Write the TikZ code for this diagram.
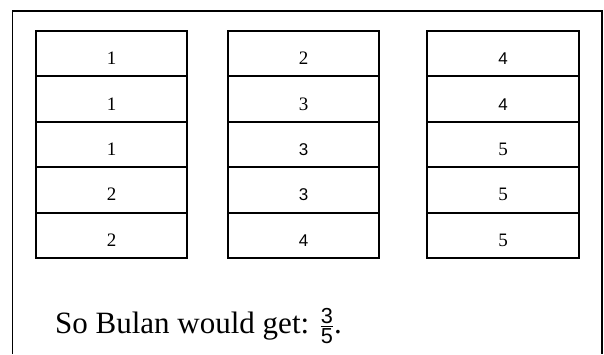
\documentclass[tikz,border=0pt]{standalone}
\usepackage{amsmath}
\usepackage{fontspec}
\setmainfont{Liberation Serif}
\setsansfont{Liberation Sans}

\tikzset{
  cell/.style={draw=black, line width=2pt, minimum width=151.5pt,
    minimum height=45.4pt, inner sep=0pt, text height=22pt, text depth=0pt,
    font=\fontsize{19}{22}\selectfont},
  sanscell/.style={cell, font=\fontsize{17}{22}\selectfont\sffamily}
}

\begin{document}
\begin{tikzpicture}[x=1pt,y=-1pt]
  \useasboundingbox (0,0) rectangle (604,354);

  % Marco exterior
  \draw[line width=1.4pt] (12.7,354) -- (12.7,11) -- (602,11) -- (602,354);

  % Columna izquierda
  \foreach \r/\v/\s in {1/1/cell,2/1/cell,3/1/cell,4/2/cell,5/2/cell}
    \node[\s] (left\r) at (111.5,{31+45.4*(\r-0.5)}) {\v};

  % Columna central
  \foreach \r/\v/\s in {1/2/cell,2/3/cell,3/3/sanscell,4/3/sanscell,5/4/sanscell}
    \node[\s] (mid\r) at (303.5,{31+45.4*(\r-0.5)}) {\v};

  % Columna derecha
  \foreach \r/\v/\s in {1/4/sanscell,2/4/sanscell,3/5/cell,4/5/cell,5/5/cell}
    \node[\s] (right\r) at (503,{31+45.4*(\r-0.5)}) {\v};

  % Resultado
  \node[anchor=base west, inner sep=0pt, font=\fontsize{31}{36}\selectfont] (answer) at (55,333)
    {So Bulan would get: $\frac{\text{\sffamily 3}}{\text{\sffamily 5}}$.};

\end{tikzpicture}
\end{document}
